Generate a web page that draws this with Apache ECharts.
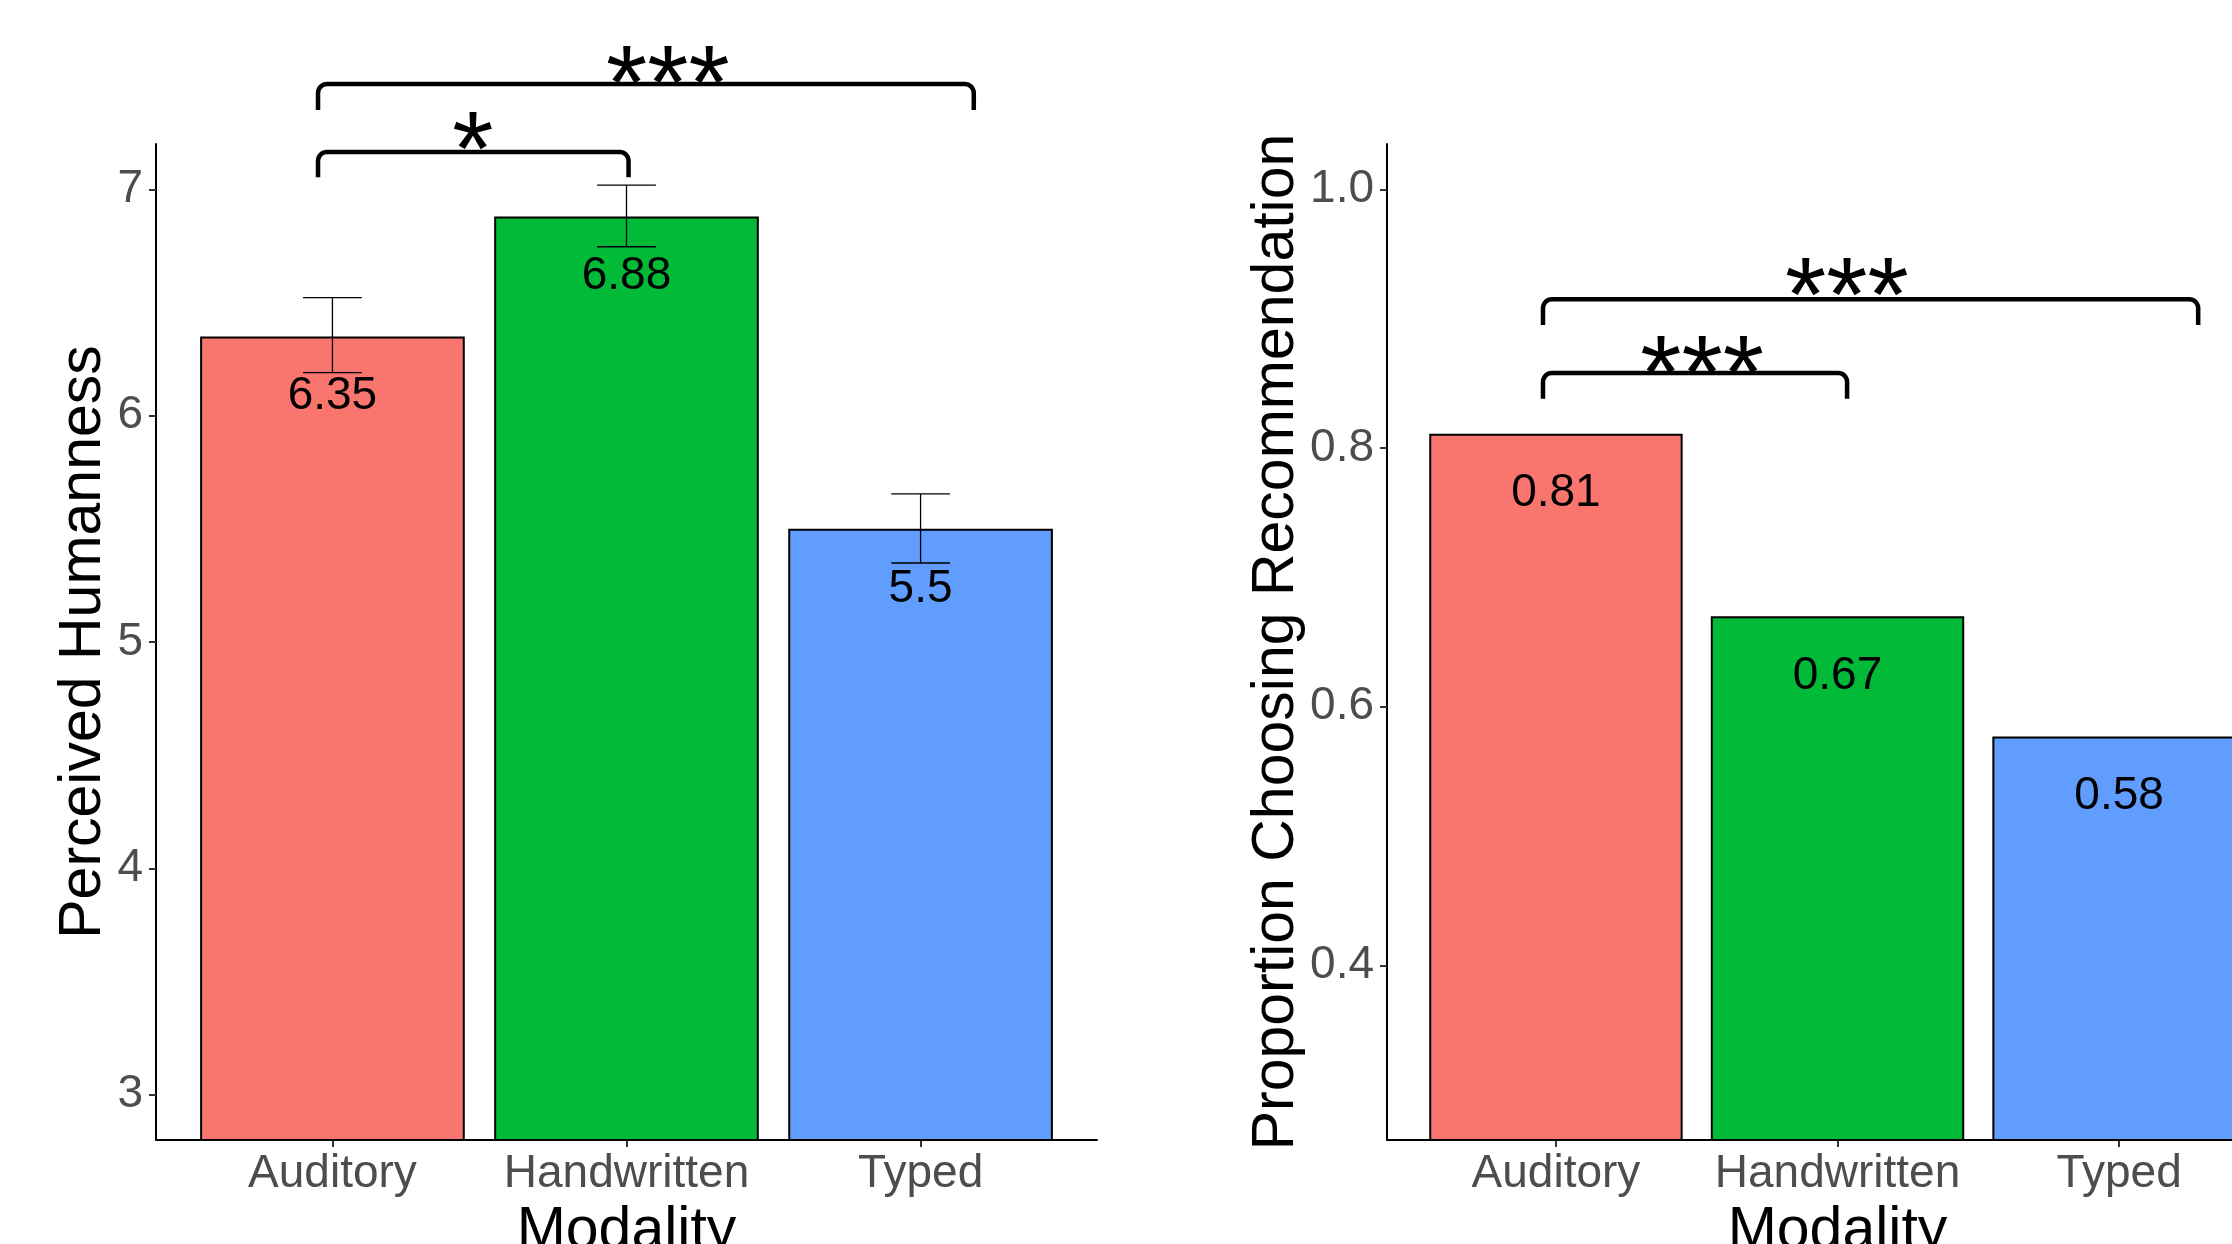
<!DOCTYPE html>
<html><head><meta charset="utf-8">
<script src="https://cdn.jsdelivr.net/npm/echarts@6/dist/echarts.min.js"></script>
<style>html,body{margin:0;padding:0;background:#fff}#c{width:2232px;height:1244px}</style>
</head><body><div id="c"></div>
<script>
// ---- data ----
const categories = ['Auditory', 'Handwritten', 'Typed'];
const barColors = ['#F8766D', '#00BA38', '#619CFF'];
const humanness = [6.35, 6.88, 5.5];
const humannessLow = [6.19, 6.746, 5.349];
const humannessHigh = [6.521, 7.018, 5.654];
const proportion = [0.811, 0.67, 0.577];
const humannessTicks = [3, 4, 5, 6, 7];
const proportionTicks = [0.4, 0.6, 0.8, 1.0];
const categoryTicks = [1, 2, 3];
// significance brackets: [from, to, bracketLevel, legEnd, labelX, labelY]
const humannessSig = [[0.951, 2.007, 7.165, 7.053, 1.478, 7.262], [0.951, 3.181, 7.465, 7.350, 2.141, 7.552]];
const humannessSigLabels = ['*', '***'];
const proportionSig = [[0.954, 2.034, 0.858, 0.838, 1.519, 0.873], [0.954, 3.281, 0.915, 0.895, 2.033, 0.933]];
const proportionSigLabels = ['***', '***'];

// ---- styles ----
const FONT = 'Liberation Sans, Arial, sans-serif';
const TICK_FS = 46, TITLE_FS = 59, STAR_FS = 106;
const gridTop = 144, gridH = 996;
const leftGrid = { left: 156, top: gridTop, width: 941, height: gridH, outerBoundsMode: 'none', containLabel: false };
const rightGrid = { left: 1387, top: gridTop, width: 901, height: gridH, outerBoundsMode: 'none', containLabel: false };

function fmt(v) { return String(Math.round(v * 100) / 100); }

function xAxisFor(idx) {
  return {
    type: 'value', gridIndex: idx, min: 0.4, max: 3.6,
    splitLine: { show: false },
    axisLine: { show: true, onZero: false, lineStyle: { color: '#000', width: 2 } },
    axisTick: { show: true, customValues: categoryTicks, length: 7, lineStyle: { color: '#333', width: 2 } },
    axisLabel: { customValues: categoryTicks, formatter: v => categories[Math.round(v) - 1], fontSize: TICK_FS, color: '#4D4D4D', margin: 11, fontFamily: FONT },
    name: 'Modality', nameLocation: 'middle', nameGap: 50,
    nameTextStyle: { fontSize: TITLE_FS, color: '#000', fontFamily: FONT }
  };
}
function yAxisFor(idx, min, max, ticks, name, gap, labelFmt) {
  return {
    type: 'value', gridIndex: idx, min: min, max: max,
    splitLine: { show: false },
    axisLine: { show: true, onZero: false, lineStyle: { color: '#000', width: 2 } },
    axisTick: { show: true, customValues: ticks, length: 7, lineStyle: { color: '#333', width: 2 } },
    axisLabel: { customValues: ticks, formatter: labelFmt, fontSize: TICK_FS, color: '#4D4D4D', margin: 13, fontFamily: FONT },
    name: name, nameLocation: 'middle', nameRotate: 90, nameGap: gap,
    nameTextStyle: { fontSize: TITLE_FS, color: '#000', fontFamily: FONT }
  };
}
function barSeries(idx, values, gridW) {
  return {
    type: 'bar', xAxisIndex: idx, yAxisIndex: idx,
    barWidth: gridW / 3.2 * 0.9,
    data: values.map((v, i) => ({ value: [i + 1, v], itemStyle: { color: barColors[i] } })),
    itemStyle: { borderColor: '#000', borderWidth: 2 },
    label: { show: true, position: 'insideTop', distance: 37, fontSize: TICK_FS, color: '#000', fontFamily: FONT,
      formatter: p => fmt(p.value[1]) },
    emphasis: { disabled: true }, animation: false
  };
}
function bracketSeries(idx, data, labels) {
  return {
    type: 'custom', xAxisIndex: idx, yAxisIndex: idx, clip: false, animation: false, z: 5,
    data: data,
    renderItem: function (params, api) {
      const x1 = api.value(0), x2 = api.value(1), y = api.value(2), tip = api.value(3), lx = api.value(4), ly = api.value(5);
      const pA = api.coord([x1, tip]), pB = api.coord([x1, y]), pC = api.coord([x2, y]), pD = api.coord([x2, tip]);
      const r = 9, pts = [[pA[0], pA[1]]];
      for (let i = 0; i <= 8; i++) { const t = i / 8 * Math.PI / 2; pts.push([pB[0] + r - r * Math.cos(t), pB[1] + r - r * Math.sin(t)]); }
      for (let i = 0; i <= 8; i++) { const t = i / 8 * Math.PI / 2; pts.push([pC[0] - r + r * Math.sin(t), pC[1] + r - r * Math.cos(t)]); }
      pts.push([pD[0], pD[1]]);
      const pt = api.coord([lx, ly]);
      return { type: 'group', children: [
        { type: 'polyline', shape: { points: pts }, style: { stroke: '#000', lineWidth: 4.5, fill: null } },
        { type: 'text', x: pt[0], y: pt[1] + 0.243 * STAR_FS,
          style: { text: labels[params.dataIndex], fontSize: STAR_FS, fontFamily: FONT, fill: '#000', align: 'center', verticalAlign: 'middle' } }
      ] };
    }
  };
}
function errorSeries(idx, lows, highs) {
  return {
    type: 'custom', xAxisIndex: idx, yAxisIndex: idx, animation: false, z: 4,
    data: lows.map((lo, i) => [i + 1, lo, highs[i]]),
    renderItem: function (params, api) {
      const x = api.value(0);
      const pl = api.coord([x, api.value(1)]), ph = api.coord([x, api.value(2)]);
      const half = api.size([0.2, 0])[0] / 2;
      const st = { stroke: '#000', lineWidth: 1.3 };
      return { type: 'group', children: [
        { type: 'line', shape: { x1: pl[0], y1: pl[1], x2: ph[0], y2: ph[1] }, style: st },
        { type: 'line', shape: { x1: pl[0] - half, y1: pl[1], x2: pl[0] + half, y2: pl[1] }, style: st },
        { type: 'line', shape: { x1: ph[0] - half, y1: ph[1], x2: ph[0] + half, y2: ph[1] }, style: st }
      ] };
    }
  };
}

const chart = echarts.init(document.getElementById('c'), null, { renderer: 'canvas' });
chart.setOption({
  animation: false,
  backgroundColor: '#fff',
  grid: [leftGrid, rightGrid],
  xAxis: [xAxisFor(0), xAxisFor(1)],
  yAxis: [
    yAxisFor(0, 2.8, 7.2, humannessTicks, 'Perceived Humanness', 35, v => String(v)),
    yAxisFor(1, 0.265, 1.035, proportionTicks, 'Proportion Choosing Recommendation', 79, v => v.toFixed(1))
  ],
  series: [
    barSeries(0, humanness, leftGrid.width),
    errorSeries(0, humannessLow, humannessHigh),
    bracketSeries(0, humannessSig, humannessSigLabels),
    barSeries(1, proportion, rightGrid.width),
    bracketSeries(1, proportionSig, proportionSigLabels)
  ]
});
</script></body></html>
